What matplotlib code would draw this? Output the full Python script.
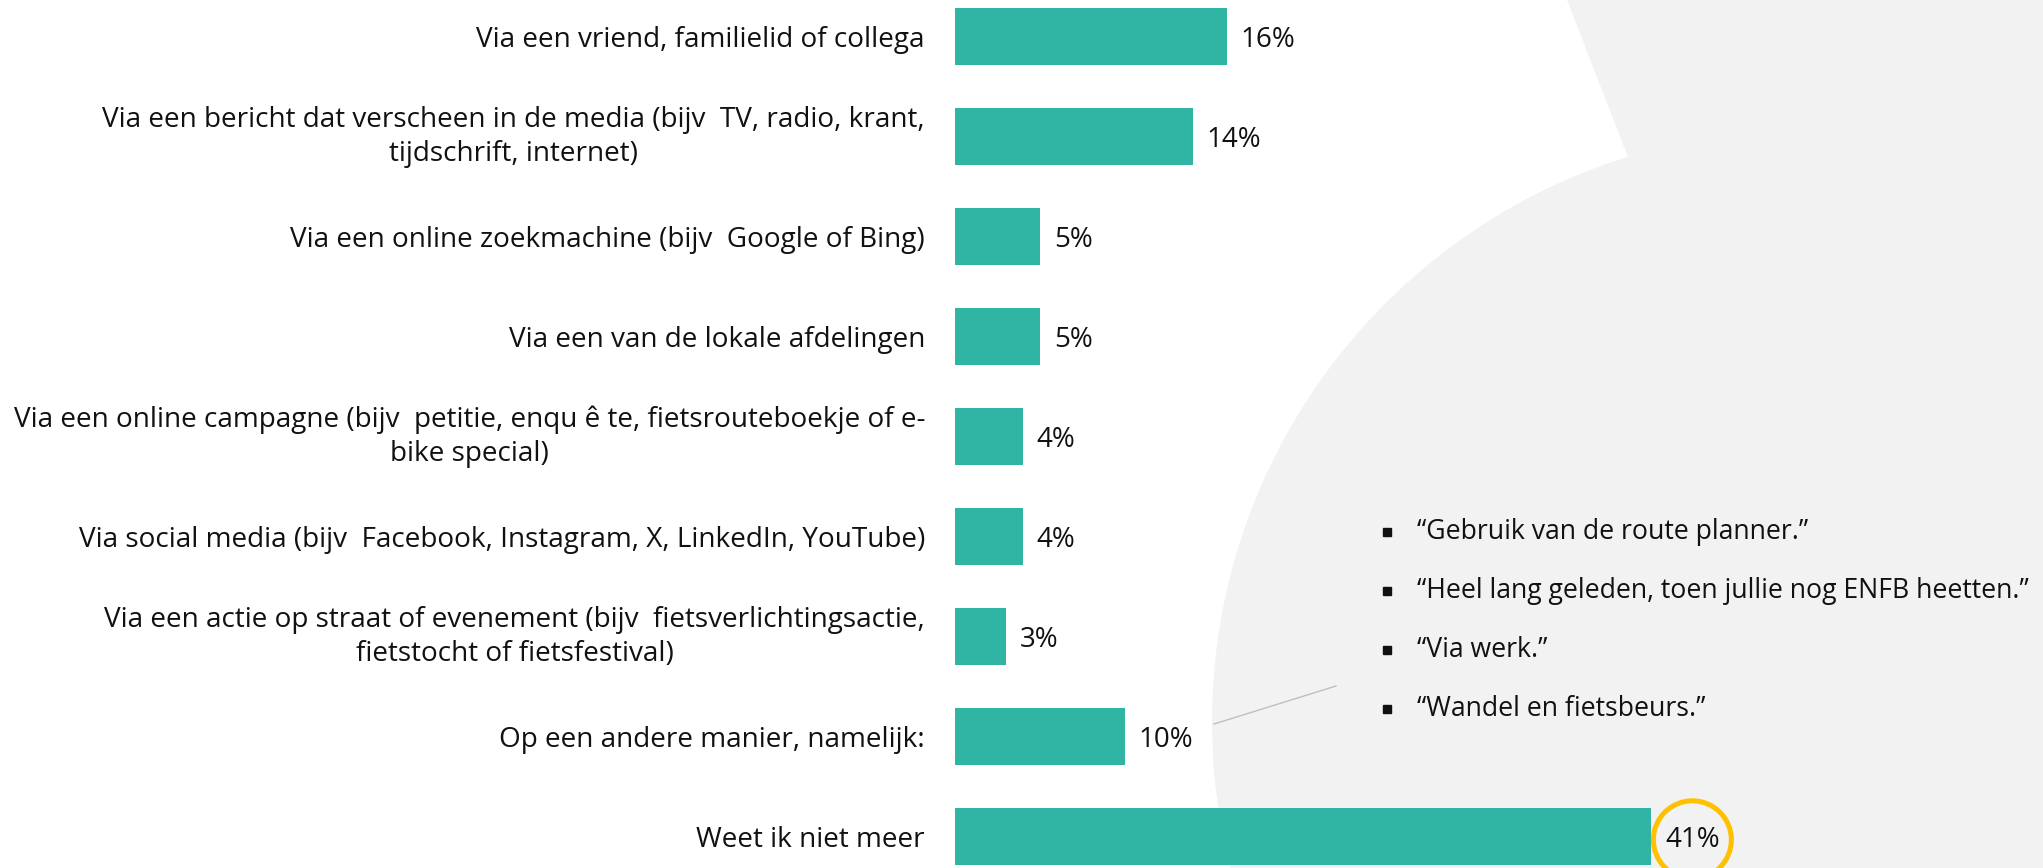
import matplotlib.pyplot as plt
import numpy as np

categories = [
    "Via een vriend, familielid of collega",
    "Via een bericht dat verscheen in de media (bijv  TV, radio, krant,\ntijdschrift, internet)",
    "Via een online zoekmachine (bijv  Google of Bing)",
    "Via een van de lokale afdelingen",
    "Via een online campagne (bijv  petitie, enqu ê te, fietsrouteboekje of e-\nbike special)",
    "Via social media (bijv  Facebook, Instagram, X, LinkedIn, YouTube)",
    "Via een actie op straat of evenement (bijv  fietsverlichtingsactie,\nfietstocht of fietsfestival)",
    "Op een andere manier, namelijk:",
    "Weet ik niet meer",
]
values = [16, 14, 5, 5, 4, 4, 3, 10, 41]
value_labels = [f"{v}%" for v in values]
highlight = 8

quotes = [
    "\u201cGebruik van de route planner.\u201d",
    "\u201cHeel lang geleden, toen jullie nog ENFB heetten.\u201d",
    "\u201cVia werk.\u201d",
    "\u201cWandel en fietsbeurs.\u201d",
]

teal = "#30b4a4"
grey_bg = "#f2f2f2"
ink = "#111111"

plt.rcParams['font.family'] = ['Open Sans', 'DejaVu Sans']

W, H = 2043, 868
fig = plt.figure(figsize=(W / 100, H / 100), dpi=100)

# decorative background shape, drawn in pixel coordinates
bg = fig.add_axes([0, 0, 1, 1], zorder=0)
bg.set_xlim(0, W)
bg.set_ylim(H, 0)
bg.axis('off')
cx, cy, r = 1804, 722, 592
a_bot = np.arctan2(H - cy, -np.sqrt(r**2 - (H - cy)**2))
a_top = np.arctan2(157 - cy, 1628 - cx) + 2 * np.pi
t = np.linspace(a_bot, a_top, 200)
xs = [1567, W, W] + list(cx + r * np.cos(t)) + [1628]
ys = [0, 0, H] + list(cy + r * np.sin(t)) + [157]
bg.fill(xs, ys, color=grey_bg, lw=0)

# leader line from the "other" answer to the quotes
bg.plot([1214, 1336], [724, 686], color="#bfbfbf", lw=1)
for k, q in enumerate(quotes):
    y = 532 + 59 * k
    bg.plot(1387, y, marker='s', ms=5.8, color=ink)
    bg.text(1417, y, q, va='center', ha='left', fontsize=19.2, color=ink)

# bar chart
x0 = 955
px_per_pct = 16.98
ax = fig.add_axes([x0 / W, 0, 1 - x0 / W, 1], zorder=1)
ax.patch.set_alpha(0)
pos = np.arange(len(values))
ax.barh(pos, values, height=0.57, color=teal)
ax.set_xlim(0, (W - x0) / px_per_pct)
ax.set_ylim(8.31, -0.37)

ax.set_yticks(pos)
ax.set_yticklabels(categories, fontsize=20.1, color=ink)
for lbl in ax.get_yticklabels():
    lbl.set_multialignment('center')
    lbl.set_linespacing(1.3)
    if "\n" in lbl.get_text():
        lbl.set_va('center')
ax.tick_params(axis='y', length=0, pad=21.6)
ax.set_xticks([])
for s in ax.spines.values():
    s.set_visible(False)

for i, (v, lab) in enumerate(zip(values, value_labels)):
    kw = {}
    if i == highlight:
        kw['bbox'] = dict(boxstyle='circle,pad=0.42', fc='none', ec='#ffc000', lw=3.6)
    ax.annotate(lab, (v, i), xytext=(10, -2), textcoords='offset points',
                va='center', ha='left', fontsize=20, color=ink, **kw)

fig.savefig("out.png", dpi=100)
plt.close(fig)
